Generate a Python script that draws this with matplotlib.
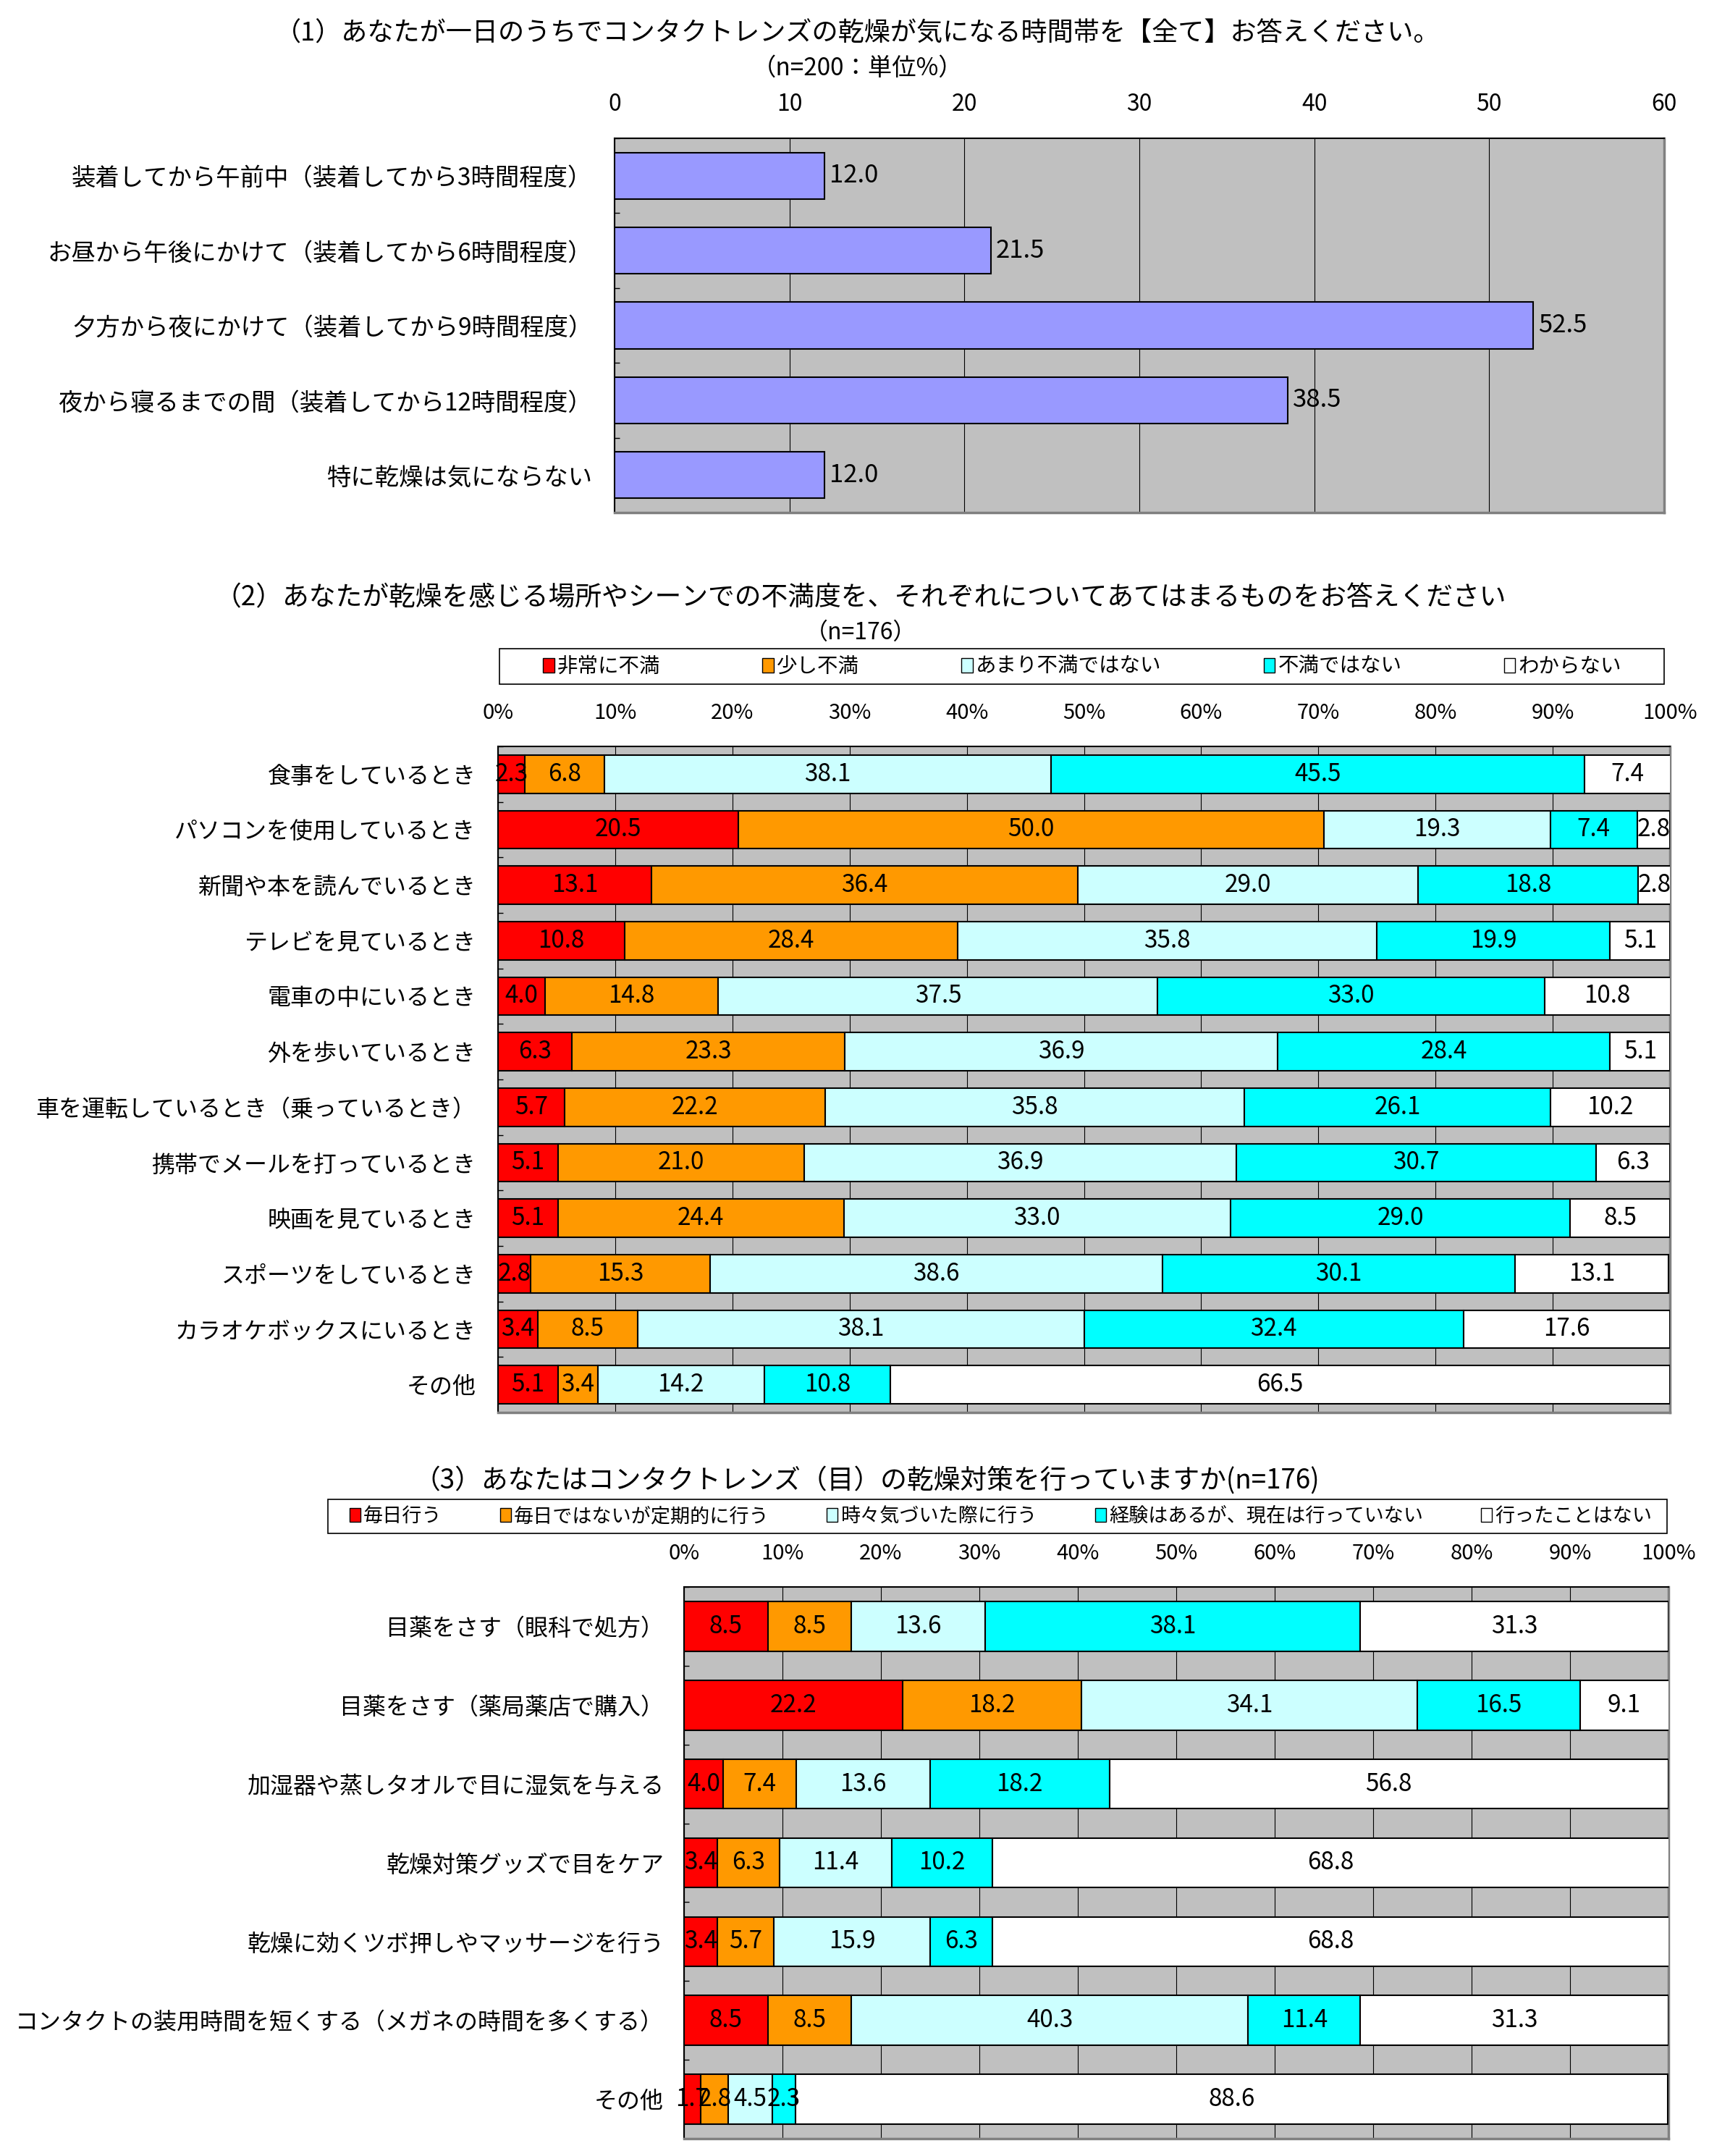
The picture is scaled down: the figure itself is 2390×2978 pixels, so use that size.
import matplotlib
matplotlib.use("Agg")
import matplotlib.pyplot as plt
from matplotlib.patches import Patch, Rectangle
import numpy as np

plt.rcParams['font.family'] = ['Noto Sans CJK JP', 'DejaVu Sans']

# ---------------- data ----------------
q1_title = "（1）あなたが一日のうちでコンタクトレンズの乾燥が気になる時間帯を【全て】お答えください。"
q1_subtitle = "（n=200：単位%）"
q1_labels = ["装着してから午前中（装着してから3時間程度）",
             "お昼から午後にかけて（装着してから6時間程度）",
             "夕方から夜にかけて（装着してから9時間程度）",
             "夜から寝るまでの間（装着してから12時間程度）",
             "特に乾燥は気にならない"]
q1_values = [12.0, 21.5, 52.5, 38.5, 12.0]
q1_ticks = [0, 10, 20, 30, 40, 50, 60]

q2_title = "（2）あなたが乾燥を感じる場所やシーンでの不満度を、それぞれについてあてはまるものをお答えください"
q2_subtitle = "（n=176）"
q2_categories = ["食事をしているとき", "パソコンを使用しているとき", "新聞や本を読んでいるとき",
                 "テレビを見ているとき", "電車の中にいるとき", "外を歩いているとき",
                 "車を運転しているとき（乗っているとき）", "携帯でメールを打っているとき",
                 "映画を見ているとき", "スポーツをしているとき", "カラオケボックスにいるとき", "その他"]
q2_series = ["非常に不満", "少し不満", "あまり不満ではない", "不満ではない", "わからない"]
q2_very = [2.3, 20.5, 13.1, 10.8, 4.0, 6.3, 5.7, 5.1, 5.1, 2.8, 3.4, 5.1]
q2_little = [6.8, 50.0, 36.4, 28.4, 14.8, 23.3, 22.2, 21.0, 24.4, 15.3, 8.5, 3.4]
q2_notmuch = [38.1, 19.3, 29.0, 35.8, 37.5, 36.9, 35.8, 36.9, 33.0, 38.6, 38.1, 14.2]
q2_not = [45.5, 7.4, 18.8, 19.9, 33.0, 28.4, 26.1, 30.7, 29.0, 30.1, 32.4, 10.8]
q2_unknown = [7.4, 2.8, 2.8, 5.1, 10.8, 5.1, 10.2, 6.3, 8.5, 13.1, 17.6, 66.5]

q3_title = "（3）あなたはコンタクトレンズ（目）の乾燥対策を行っていますか(n=176)"
q3_categories = ["目薬をさす（眼科で処方）", "目薬をさす（薬局薬店で購入）",
                 "加湿器や蒸しタオルで目に湿気を与える", "乾燥対策グッズで目をケア",
                 "乾燥に効くツボ押しやマッサージを行う",
                 "コンタクトの装用時間を短くする（メガネの時間を多くする）", "その他"]
q3_series = ["毎日行う", "毎日ではないが定期的に行う", "時々気づいた際に行う",
             "経験はあるが、現在は行っていない", "行ったことはない"]
q3_daily = [8.5, 22.2, 4.0, 3.4, 3.4, 8.5, 1.7]
q3_regular = [8.5, 18.2, 7.4, 6.3, 5.7, 8.5, 2.8]
q3_sometimes = [13.6, 34.1, 13.6, 11.4, 15.9, 40.3, 4.5]
q3_past = [38.1, 16.5, 18.2, 10.2, 6.3, 11.4, 2.3]
q3_never = [31.3, 9.1, 56.8, 68.8, 68.8, 31.3, 88.6]

pct_ticks = [0, 10, 20, 30, 40, 50, 60, 70, 80, 90, 100]
stack_colors = ["#FF0000", "#FF9900", "#CCFFFF", "#00FFFF", "#FFFFFF"]

# ---------------- layout ----------------
W, H = 2390, 2978
DPI = 100
fig = plt.figure(figsize=(W / DPI, H / DPI), dpi=DPI)
fig.patch.set_facecolor("white")


def fx(px):
    return px / W


def fy(py):
    return 1 - py / H


def axes_px(l, t, r, b):
    return fig.add_axes([fx(l), fy(b), (r - l) / W, (b - t) / H])


def style_axes(ax, n, xmax, ticks, ticklabels, tick_fs, pad, ylab_fs, ylab_pad):
    ax.set_facecolor("#C0C0C0")
    ax.set_xlim(0, xmax)
    ax.set_ylim(n - 0.5, -0.5)
    ax.xaxis.tick_top()
    ax.set_xticks(ticks)
    ax.set_xticklabels(ticklabels, fontsize=tick_fs)
    ax.tick_params(axis="x", length=0, pad=pad)
    ax.tick_params(axis="y", which="major", length=0, pad=ylab_pad, labelsize=ylab_fs)
    ax.set_yticks(np.arange(-0.5, n, 1.0), minor=True)
    ax.tick_params(axis="y", which="minor", direction="in", length=5, width=1, color="black")
    ax.grid(axis="x", color="black", linewidth=0.8, zorder=1)
    ax.set_axisbelow(True)
    ax.spines["top"].set_color("black")
    ax.spines["top"].set_linewidth(1.5)
    ax.spines["left"].set_color("black")
    ax.spines["left"].set_linewidth(1.5)
    for s in ("right", "bottom"):
        ax.spines[s].set_color("#808080")
        ax.spines[s].set_linewidth(2.5)


# ---------------- chart 1 ----------------
fig.text(fx(1185), fy(47), q1_title, ha="center", va="center", fontsize=26)
fig.text(fx(1185), fy(94), q1_subtitle, ha="center", va="center", fontsize=24)

ax1 = axes_px(849, 191, 2299, 708)
y1 = np.arange(len(q1_labels))
bars1 = ax1.barh(y1, q1_values, height=0.62, color="#9999FF", edgecolor="black",
                 linewidth=1.5, zorder=3)
style_axes(ax1, len(q1_labels), 60, q1_ticks, [str(t) for t in q1_ticks], 23, 22, 24, 22)
ax1.set_yticks(y1)
ax1.set_yticklabels(q1_labels)
ax1.bar_label(bars1, labels=[f"{v:.1f}" for v in q1_values], padding=5, fontsize=25)

# ---------------- stacked chart helper ----------------


def stacked(ax, cats, series_vals, series_names, bar_h, lab_fs):
    y = np.arange(len(cats))
    left = np.zeros(len(cats))
    handles = []
    for vals, name, col in zip(series_vals, series_names, stack_colors):
        vals = np.asarray(vals)
        cont = ax.barh(y, vals, left=left, height=bar_h, color=col, edgecolor="black",
                       linewidth=1.5, zorder=3, label=name)
        ax.bar_label(cont, labels=[f"{v:.1f}" for v in vals], label_type="center",
                     fontsize=lab_fs, zorder=5)
        left = left + vals
        handles.append(Patch(facecolor=col, edgecolor="black", linewidth=1, label=name))
    ax.set_yticks(y)
    ax.set_yticklabels(cats)
    return handles


# ---------------- chart 2 ----------------
fig.text(fx(1189), fy(826), q2_title, ha="center", va="center", fontsize=26.5)
fig.text(fx(1189), fy(874), q2_subtitle, ha="center", va="center", fontsize=23)

ax2 = axes_px(688, 1031, 2307, 1951)
h2 = stacked(ax2, q2_categories, [q2_very, q2_little, q2_notmuch, q2_not, q2_unknown],
             q2_series, 0.69, 24)
style_axes(ax2, len(q2_categories), 100, pct_ticks, [f"{t}%" for t in pct_ticks], 21, 22, 23, 22)

fig.add_artist(Rectangle((fx(690), fy(945)), (2299 - 690) / W, 49 / H,
                         transform=fig.transFigure, fill=False, edgecolor="black", linewidth=1.2))
fig.legend(handles=h2, loc="center", bbox_to_anchor=(fx(750), fy(945), (2240 - 750) / W, 49 / H),
           mode="expand", ncol=5, frameon=False, handlelength=0.55, handleheight=0.7,
           handletextpad=0.15, fontsize=20.5, borderaxespad=0, borderpad=0)

# ---------------- chart 3 ----------------
fig.text(fx(1197), fy(2045), q3_title, ha="center", va="center", fontsize=26.5)

ax3 = axes_px(945, 2192, 2305, 2954)
h3 = stacked(ax3, q3_categories, [q3_daily, q3_regular, q3_sometimes, q3_past, q3_never],
             q3_series, 0.63, 24)
style_axes(ax3, len(q3_categories), 100, pct_ticks, [f"{t}%" for t in pct_ticks], 21, 22, 23, 20)

fig.add_artist(Rectangle((fx(453), fy(2118)), (2303 - 453) / W, 47 / H,
                         transform=fig.transFigure, fill=False, edgecolor="black", linewidth=1.2))
fig.legend(handles=h3, loc="center", bbox_to_anchor=(fx(483), fy(2118), (2282 - 483) / W, 47 / H),
           mode="expand", ncol=5, frameon=False, handlelength=0.55, handleheight=0.7,
           handletextpad=0.15, fontsize=19.5, borderaxespad=0, borderpad=0)

fig.savefig("out.png", dpi=DPI, facecolor="white")
